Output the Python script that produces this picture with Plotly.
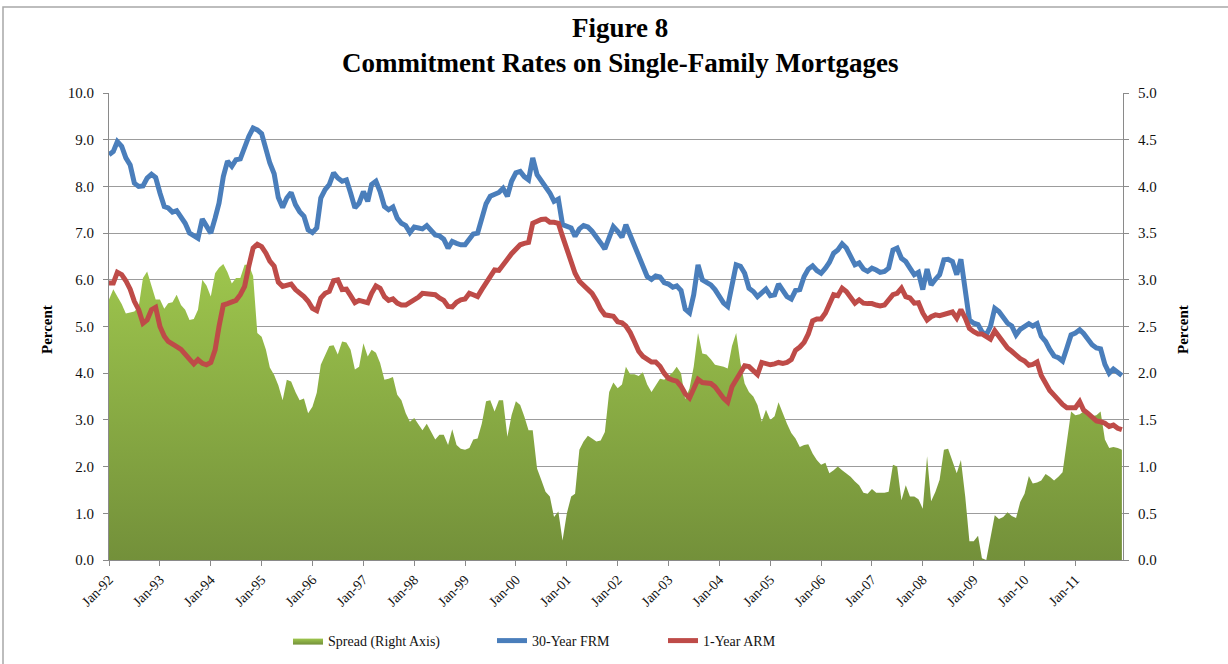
import plotly.graph_objects as go
import pandas as pd

# ---------------- data (monthly, Jan-1992 .. Dec-2011) ----------------
frm_rate = [
    8.68, 8.75, 8.96, 8.86, 8.61, 8.46, 8.07, 8.00, 8.01, 8.18, 8.26, 8.19,
    7.86, 7.57, 7.54, 7.45, 7.48, 7.34, 7.21, 7.00, 6.93, 6.89, 7.30, 7.14,
    7.00, 7.32, 7.64, 8.21, 8.54, 8.43, 8.57, 8.59, 8.86, 9.07, 9.25, 9.21,
    9.13, 8.79, 8.50, 8.27, 7.76, 7.55, 7.75, 7.87, 7.61, 7.46, 7.36, 7.07,
    7.01, 7.11, 7.75, 7.93, 8.04, 8.29, 8.18, 8.11, 8.14, 7.86, 7.54, 7.64,
    7.89, 7.68, 8.04, 8.11, 7.89, 7.57, 7.50, 7.56, 7.32, 7.21, 7.16, 7.01,
    7.13, 7.11, 7.09, 7.16, 7.04, 6.96, 6.94, 6.87, 6.68, 6.82, 6.78, 6.75,
    6.75, 6.89, 6.98, 7.00, 7.29, 7.63, 7.79, 7.84, 7.87, 7.96, 7.79, 8.11,
    8.29, 8.32, 8.21, 8.14, 8.61, 8.25, 8.13, 8.00, 7.86, 7.68, 7.73, 7.18,
    7.14, 7.11, 6.93, 7.09, 7.16, 7.13, 7.04, 6.93, 6.79, 6.66, 6.94, 7.14,
    7.04, 6.91, 7.18, 6.95, 6.75, 6.50, 6.30, 6.07, 6.01, 6.08, 6.06, 5.94,
    5.91, 5.84, 5.87, 5.77, 5.37, 5.29, 5.68, 6.32, 6.00, 5.94, 5.89, 5.79,
    5.66, 5.50, 5.43, 5.93, 6.32, 6.29, 6.14, 5.82, 5.75, 5.64, 5.71, 5.80,
    5.66, 5.68, 5.91, 5.75, 5.64, 5.59, 5.77, 5.79, 6.07, 6.23, 6.30, 6.20,
    6.14, 6.25, 6.37, 6.57, 6.64, 6.77, 6.68, 6.50, 6.32, 6.36, 6.23, 6.18,
    6.25, 6.21, 6.16, 6.18, 6.25, 6.64, 6.68, 6.46, 6.39, 6.25, 6.11, 6.16,
    5.79, 6.23, 5.89, 6.01, 6.11, 6.43, 6.44, 6.39, 6.11, 6.44, 5.71, 5.14,
    5.07, 5.04, 4.89, 4.82, 5.00, 5.39, 5.32, 5.18, 5.07, 5.01, 4.82, 4.94,
    5.01, 5.06, 5.01, 5.06, 4.79, 4.68, 4.51, 4.37, 4.33, 4.26, 4.54, 4.82,
    4.86, 4.93, 4.85, 4.72, 4.61, 4.54, 4.52, 4.19, 4.00, 4.09, 4.00, 3.95,
]

arm_rate = [
    5.93, 5.93, 6.16, 6.11, 5.98, 5.80, 5.54, 5.36, 5.07, 5.14, 5.36, 5.41,
    5.00, 4.79, 4.68, 4.61, 4.57, 4.51, 4.39, 4.30, 4.20, 4.29, 4.21, 4.18,
    4.23, 4.50, 5.00, 5.46, 5.49, 5.54, 5.56, 5.68, 5.86, 6.29, 6.68, 6.76,
    6.71, 6.57, 6.40, 6.29, 5.95, 5.86, 5.89, 5.91, 5.79, 5.73, 5.64, 5.54,
    5.39, 5.34, 5.61, 5.71, 5.75, 5.98, 6.00, 5.79, 5.80, 5.66, 5.51, 5.56,
    5.54, 5.51, 5.71, 5.87, 5.82, 5.64, 5.56, 5.59, 5.50, 5.46, 5.46, 5.51,
    5.57, 5.63, 5.71, 5.70, 5.71, 5.68, 5.61, 5.56, 5.43, 5.42, 5.52, 5.57,
    5.59, 5.71, 5.68, 5.64, 5.79, 5.94, 6.06, 6.21, 6.20, 6.34, 6.44, 6.56,
    6.66, 6.75, 6.78, 6.80, 7.21, 7.25, 7.29, 7.30, 7.23, 7.23, 7.21, 6.93,
    6.64, 6.39, 6.14, 5.97, 5.88, 5.79, 5.71, 5.56, 5.37, 5.25, 5.24, 5.22,
    5.10, 5.08, 5.01, 4.87, 4.68, 4.47, 4.36, 4.31, 4.24, 4.24, 4.15, 4.00,
    3.89, 3.85, 3.83, 3.72, 3.56, 3.47, 3.65, 3.87, 3.80, 3.78, 3.78, 3.71,
    3.57, 3.46, 3.38, 3.71, 3.86, 4.01, 4.16, 4.14, 4.04, 3.97, 4.23, 4.20,
    4.18, 4.20, 4.23, 4.21, 4.23, 4.29, 4.49, 4.56, 4.66, 4.84, 5.12, 5.16,
    5.16, 5.29, 5.46, 5.68, 5.66, 5.82, 5.75, 5.61, 5.50, 5.57, 5.50, 5.49,
    5.49, 5.46, 5.44, 5.46, 5.57, 5.68, 5.71, 5.82, 5.64, 5.61, 5.50, 5.51,
    5.29, 5.14, 5.21, 5.25, 5.23, 5.25, 5.27, 5.31, 5.18, 5.36, 5.18, 4.96,
    4.89, 4.84, 4.84, 4.79, 4.73, 4.91, 4.79, 4.68, 4.54, 4.47, 4.37, 4.31,
    4.26, 4.17, 4.19, 4.24, 3.95, 3.77, 3.63, 3.53, 3.42, 3.33, 3.26, 3.25,
    3.26, 3.39, 3.21, 3.14, 3.07, 2.98, 2.96, 2.93, 2.86, 2.89, 2.82, 2.79,
]

spread = [
    2.79, 2.90, 2.82, 2.74, 2.64, 2.65, 2.66, 2.71, 3.02, 3.09, 2.93, 2.79,
    2.79, 2.69, 2.75, 2.76, 2.84, 2.73, 2.68, 2.57, 2.58, 2.68, 3.00, 2.94,
    2.82, 3.07, 3.13, 3.17, 3.08, 2.96, 3.02, 3.02, 3.16, 3.16, 3.04, 2.43,
    2.39, 2.25, 2.06, 1.98, 1.87, 1.71, 1.93, 1.91, 1.80, 1.71, 1.73, 1.57,
    1.64, 1.79, 2.09, 2.20, 2.29, 2.30, 2.20, 2.34, 2.33, 2.25, 2.04, 2.07,
    2.32, 2.18, 2.25, 2.22, 2.11, 1.93, 1.94, 1.96, 1.77, 1.71, 1.57, 1.48,
    1.52, 1.45, 1.39, 1.46, 1.38, 1.29, 1.34, 1.34, 1.23, 1.40, 1.23, 1.19,
    1.18, 1.20, 1.29, 1.30, 1.46, 1.70, 1.71, 1.59, 1.71, 1.71, 1.32, 1.55,
    1.70, 1.66, 1.54, 1.39, 1.39, 0.98, 0.86, 0.73, 0.68, 0.46, 0.52, 0.21,
    0.50, 0.68, 0.71, 1.18, 1.27, 1.33, 1.30, 1.27, 1.28, 1.37, 1.80, 1.90,
    1.84, 1.88, 2.07, 1.99, 1.99, 1.97, 2.01, 1.88, 1.80, 1.87, 1.94, 1.93,
    1.97, 2.01, 2.07, 2.00, 1.72, 1.84, 2.07, 2.43, 2.21, 2.20, 2.15, 2.09,
    2.08, 2.07, 2.05, 2.29, 2.43, 2.11, 1.89, 1.80, 1.75, 1.66, 1.48, 1.61,
    1.50, 1.54, 1.69, 1.57, 1.46, 1.36, 1.30, 1.21, 1.23, 1.24, 1.14, 1.07,
    1.02, 1.04, 0.93, 0.96, 1.00, 0.96, 0.93, 0.89, 0.84, 0.80, 0.72, 0.71,
    0.76, 0.72, 0.72, 0.72, 0.73, 1.02, 1.00, 0.64, 0.80, 0.68, 0.68, 0.65,
    0.55, 1.11, 0.63, 0.73, 0.86, 1.18, 1.19, 1.07, 0.93, 1.07, 0.68, 0.20,
    0.20, 0.26, 0.02, 0.00, 0.25, 0.48, 0.44, 0.46, 0.51, 0.47, 0.45, 0.62,
    0.71, 0.90, 0.82, 0.83, 0.85, 0.92, 0.89, 0.85, 0.89, 0.94, 1.27, 1.59,
    1.55, 1.56, 1.59, 1.57, 1.54, 1.55, 1.59, 1.29, 1.20, 1.21, 1.20, 1.18,
]

tick_labels = ["Jan-92", "Jan-93", "Jan-94", "Jan-95", "Jan-96", "Jan-97",
               "Jan-98", "Jan-99", "Jan-00", "Jan-01", "Jan-02", "Jan-03",
               "Jan-04", "Jan-05", "Jan-06", "Jan-07", "Jan-08", "Jan-09",
               "Jan-10", "Jan-11"]

months = pd.date_range("1992-01-01", periods=len(frm_rate), freq="MS")
tick_vals = pd.to_datetime(tick_labels, format="%b-%y")

SERIF = "Liberation Serif, Times New Roman, serif"
GRID = "#9c9c9c"
AXIS = "#8a8a8a"

fig = go.Figure()
fig.add_trace(go.Scatter(
    x=months, y=spread, name="Spread (Right Axis)", yaxis="y",
    mode="lines", line=dict(width=0, color="#8BB043"),
    fill="tozeroy",
    fillgradient=dict(type="vertical", start=0, stop=3.2,
                      colorscale=[[0, "#73903A"], [1, "#9EC64D"]]),
    legend="legend", hoverinfo="skip"))
fig.add_trace(go.Scatter(
    x=months, y=frm_rate, name="30-Year FRM", yaxis="y2",
    mode="lines", line=dict(width=5, color="#4A7EBB"),
    legend="legend2"))
fig.add_trace(go.Scatter(
    x=months, y=arm_rate, name="1-Year ARM", yaxis="y2",
    mode="lines", line=dict(width=5, color="#BE4B48"),
    legend="legend3"))

PW, PH, L, T = 1014, 467, 109, 93


def px(xp):
    return (xp - L) / PW


def py(yp):
    return (T + PH - yp) / PH


legend_common = dict(orientation="h", yanchor="middle", xanchor="left",
                     bgcolor="rgba(0,0,0,0)", font=dict(family=SERIF, size=14, color="#111"),
                     itemwidth=30)

fig.update_layout(
    width=1228, height=664,
    margin=dict(l=L, r=1228 - L - PW, t=T, b=664 - T - PH, autoexpand=False),
    paper_bgcolor="white", plot_bgcolor="white",
    font=dict(family=SERIF, color="#111"),
    showlegend=True,
    legend=dict(legend_common, x=px(288), y=py(641)),
    legend2=dict(legend_common, x=px(492), y=py(641)),
    legend3=dict(legend_common, x=px(663), y=py(641)),
    xaxis=dict(
        range=[months[0], months[-1] + pd.Timedelta(days=8)],
        tickmode="array", tickvals=tick_vals, ticktext=tick_labels,
        tickangle=-45, tickfont=dict(family=SERIF, size=14, color="#111"),
        ticks="outside", ticklen=5, tickcolor=AXIS,
        showline=True, linecolor=AXIS, linewidth=1,
        showgrid=False, zeroline=False),
    yaxis=dict(
        side="right", range=[0, 5], dtick=0.5, tickformat=".1f",
        tickfont=dict(family=SERIF, size=15, color="#111"),
        ticks="outside", ticklen=5, tickcolor=AXIS, ticklabelstandoff=6,
        showline=True, linecolor=AXIS, linewidth=1,
        showgrid=True, gridcolor=GRID, gridwidth=1, zeroline=False),
    yaxis2=dict(
        overlaying="y", side="left", range=[0, 10], dtick=1, tickformat=".1f",
        tickfont=dict(family=SERIF, size=15, color="#111"),
        ticks="outside", ticklen=5, tickcolor=AXIS, ticklabelstandoff=6,
        showline=True, linecolor=AXIS, linewidth=1,
        showgrid=False, zeroline=False),
)

# chart border (as in the original slide)
fig.add_shape(type="rect", xref="paper", yref="paper",
              x0=px(3), x1=px(1240), y0=py(680), y1=py(7),
              line=dict(color="#a8a8a8", width=1.5), fillcolor="rgba(0,0,0,0)",
              layer="below")

# title (two lines)
fig.add_annotation(text="<b>Figure 8</b><br><b>Commitment Rates on Single-Family Mortgages</b>",
                   xref="paper", yref="paper", x=px(620), y=py(46),
                   xanchor="center", yanchor="middle", showarrow=False,
                   font=dict(family=SERIF, size=27, color="#000"))

# axis titles
fig.add_annotation(text="<b>Percent</b>", xref="paper", yref="paper",
                   x=px(47), y=py(330), xanchor="center", yanchor="middle",
                   textangle=-90, showarrow=False,
                   font=dict(family=SERIF, size=15, color="#000"))
fig.add_annotation(text="<b>Percent</b>", xref="paper", yref="paper",
                   x=px(1183), y=py(330), xanchor="center", yanchor="middle",
                   textangle=-90, showarrow=False,
                   font=dict(family=SERIF, size=15, color="#000"))

fig.write_html("out.html", config={"displayModeBar": False},
               post_script="document.body.style.margin='0px';")
